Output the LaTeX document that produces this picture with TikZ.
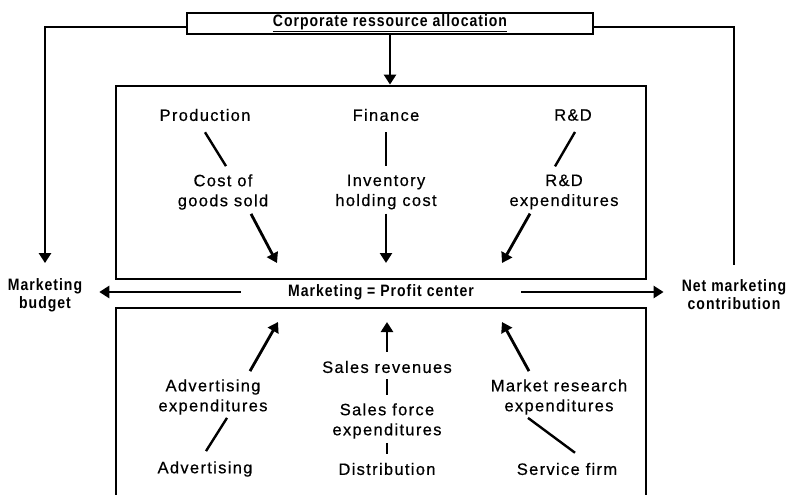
\documentclass[tikz,border=0pt]{standalone}
\usepackage{fontspec}
\setmainfont{Liberation Sans}[LetterSpace=8,FakeBold=0.5]
\newfontfamily\narrowbf{Liberation Sans}[FakeStretch=0.85,LetterSpace=6]
\usetikzlibrary{arrows.meta,positioning}

\begin{document}
\begin{tikzpicture}[
    x=1pt, y=-1pt,
    panel/.style={
      draw,
      line width=2.8pt,
      minimum width=530pt,
      inner sep=0pt
    },
    tag/.style={
      align=center,
      inner sep=1pt,
      font=\fontsize{16.5}{20}\selectfont
    },
    headline/.style={
      align=center,
      inner sep=1pt,
      font=\narrowbf\bfseries\fontsize{16.5}{18}\selectfont
    },
    link/.style={
      line width=2.4pt
    },
    arrow/.style={
      -{Triangle[length=10pt,width=12pt]},
      line width=2.8pt
    }
  ]
  \useasboundingbox (0,0) rectangle (790,495);

  \node[panel, minimum height=193pt] (upper) at (381,182.5) {};
  \node[panel, minimum height=200pt] (lower) at (381,408) {};

  \node[headline, draw, line width=2.2pt, minimum width=406pt, minimum height=21pt] (corp) at (390,23.5) {\underline{Corporate ressource allocation}};
  \node[headline] (pc) at (381,292) {Marketing = Profit center};
  \node[headline] (budget) at (45,295) {Marketing\\budget};
  \node[headline] (netc) at (734,295) {Net marketing\\contribution};

  \node[tag] (prod) at (205,115) {Production};
  \node[tag] (fin) at (386,115) {Finance};
  \node[tag] (rnd) at (573,115) {R\&D};
  \node[tag] (cogs) at (223,192) {Cost of\\goods sold};
  \node[tag] (inv) at (386,192) {Inventory\\holding cost};
  \node[tag] (rndx) at (564,192) {R\&D\\expenditures};

  \node[tag] (adx) at (213,397) {Advertising\\expenditures};
  \node[tag] (sal) at (387,367) {Sales revenues};
  \node[tag] (sfx) at (387,421) {Sales force\\expenditures};
  \node[tag] (mrx) at (559,397) {Market research\\expenditures};
  \node[tag] (adv) at (205,469) {Advertising};
  \node[tag] (dist) at (387,469) {Distribution};
  \node[tag] (svc) at (567,469) {Service firm};

  \coordinate (hubtl) at (277,263);
  \coordinate (hubt) at (386,263);
  \coordinate (hubtr) at (502,263);
  \coordinate (hubbl) at (278,322);
  \coordinate (hubb) at (387,322);
  \coordinate (hubbr) at (502,322);

  \draw[arrow] (corp) -- (corp |- upper.north);
  \draw[arrow, shorten >=14pt] ([yshift=-3.5pt]corp.west) -| (budget.north);
  \draw[link, line width=2.8pt, shorten >=14pt] ([yshift=-3.5pt]corp.east) -| (netc.north);
  \draw[arrow, shorten <=46pt, shorten >=16pt] (pc.west) -- (pc.west -| budget.east);
  \draw[arrow, shorten <=46pt, shorten >=17pt] (pc.east) -- (pc.east -| netc.west);

  \draw[link] ([yshift=-10pt]prod.south) -- ([xshift=3pt,yshift=7pt]cogs.north);
  \draw[link, shorten <=10pt, shorten >=7pt] (fin.south) -- (fin.south |- inv.north);
  \draw[link] ([xshift=2pt,yshift=-10pt]rnd.south) -- ([xshift=-9pt,yshift=7pt]rndx.north);
  \draw[arrow] ([xshift=28pt,yshift=-3pt]cogs.south) -- (hubtl);
  \draw[arrow] ([yshift=-3pt]inv.south) -- (hubt);
  \draw[arrow] ([xshift=-34pt,yshift=-3pt]rndx.south) -- (hubtr);

  \draw[arrow] ([xshift=37pt,yshift=7pt]adx.north) -- (hubbl);
  \draw[arrow, shorten <=8pt] (sal.north) -- (hubb);
  \draw[arrow] ([xshift=-30pt,yshift=7pt]mrx.north) -- (hubbr);
  \draw[link, shorten <=5pt, shorten >=7pt] (sal.south) -- (sal.south |- sfx.north);
  \draw[link, shorten <=3pt, shorten >=8pt] (sfx.south) -- (sfx.south |- dist.north);
  \draw[link] ([xshift=14pt,yshift=-2pt]adx.south) -- ([xshift=1pt,yshift=9pt]adv.north);
  \draw[link] ([xshift=-31pt,yshift=-2pt]mrx.south) -- ([xshift=8pt,yshift=9pt]svc.north);

\end{tikzpicture}
\end{document}
